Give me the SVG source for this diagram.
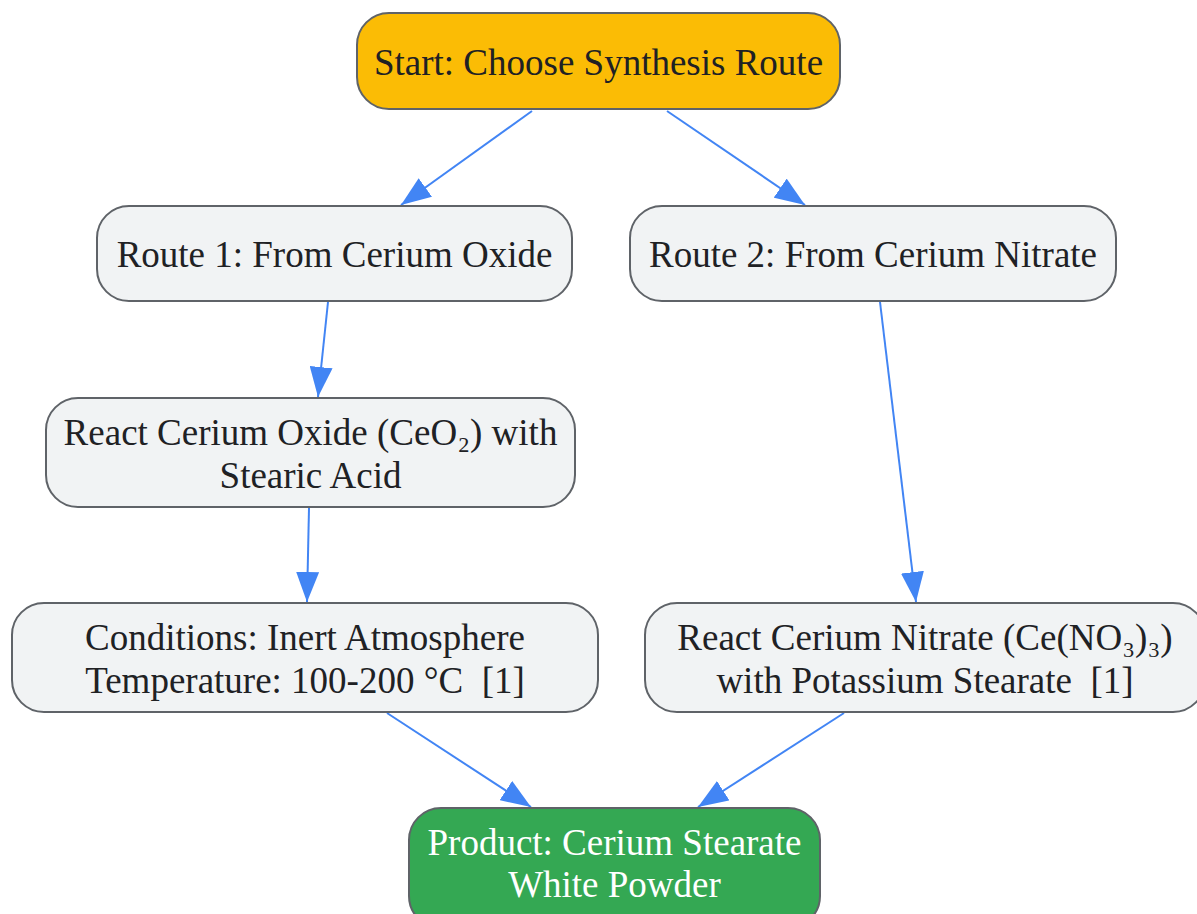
<svg xmlns="http://www.w3.org/2000/svg" width="1197" height="914" viewBox="0 0 1197 914">
<defs>
<marker id="ah" viewBox="0 0 30 23" refX="30" refY="11.5" markerWidth="30" markerHeight="23" markerUnits="userSpaceOnUse" orient="auto">
<path d="M0,0 L30,11.5 L0,23 z" fill="#4285F4"/>
</marker>
<style>
.n rect{stroke:#5f6368;stroke-width:2}
.g rect{fill:#F1F3F4}
text{font-family:"Liberation Serif","Times New Roman",serif;font-size:37px;fill:#202124;text-anchor:middle;white-space:pre}
.w text{fill:#ffffff}
#edges line{stroke:#4285F4;stroke-width:2;fill:none;marker-end:url(#ah)}
</style>
</defs>
<rect width="1197" height="914" fill="#ffffff"/>
<g id="edges">
<line x1="532" y1="111" x2="401" y2="205"/>
<line x1="667" y1="111" x2="805" y2="205"/>
<line x1="328" y1="302" x2="318" y2="397"/>
<line x1="880" y1="302" x2="916" y2="602"/>
<line x1="309" y1="508" x2="307" y2="602"/>
<line x1="387" y1="713" x2="531" y2="807"/>
<line x1="844" y1="713" x2="698" y2="807"/>
</g>
<g id="start" class="n"><rect x="357" y="13" width="483" height="96" rx="32" fill="#FBBC05"/><text x="598.5" y="75">Start: Choose Synthesis Route</text></g>
<g id="route1" class="n g"><rect x="97" y="206" width="475" height="95" rx="32"/><text x="334.5" y="267">Route 1: From Cerium Oxide</text></g>
<g id="route2" class="n g"><rect x="630" y="206" width="486" height="95" rx="32"/><text x="873" y="267">Route 2: From Cerium Nitrate</text></g>
<g id="react1" class="n g"><rect x="46" y="398" width="529" height="109" rx="32"/><text x="310.5" y="445">React Cerium Oxide (CeO₂) with</text><text x="310.5" y="488">Stearic Acid</text></g>
<g id="cond" class="n g"><rect x="12" y="603" width="586" height="109" rx="32"/><text x="305" y="650">Conditions: Inert Atmosphere</text><text x="305" y="693">Temperature: 100-200 °C  [1]</text></g>
<g id="react2" class="n g"><rect x="645" y="603" width="560" height="109" rx="32"/><text x="925" y="650">React Cerium Nitrate (Ce(NO₃)₃)</text><text x="925" y="693">with Potassium Stearate  [1]</text></g>
<g id="product" class="n w"><rect x="409" y="808" width="411" height="120" rx="32" fill="#34A853"/><text x="614.5" y="855">Product: Cerium Stearate</text><text x="614.5" y="897">White Powder</text></g>
</svg>
